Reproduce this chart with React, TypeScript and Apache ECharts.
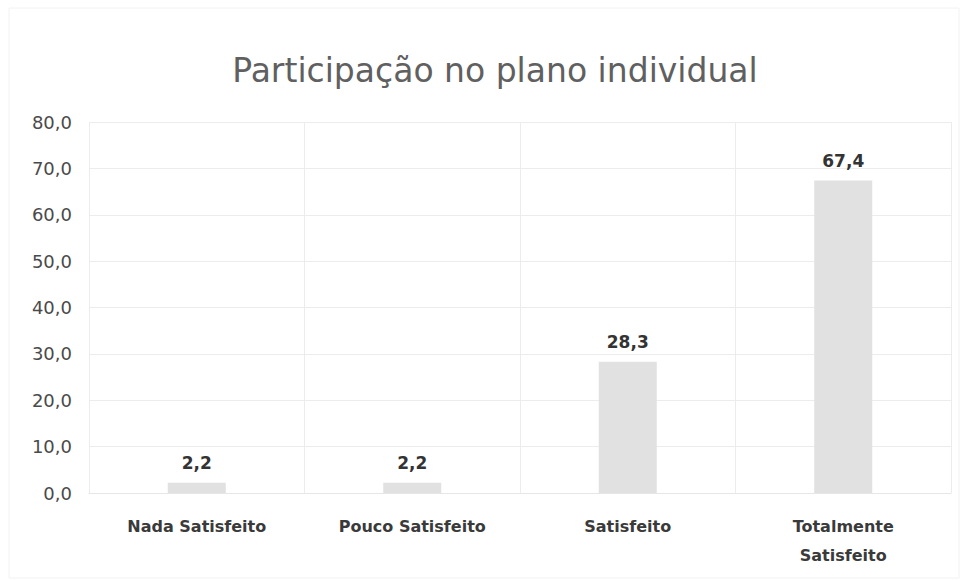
import React, { useEffect, useRef } from "react";
import * as echarts from "echarts";

const categories = ["Nada Satisfeito", "Pouco Satisfeito", "Satisfeito", "Totalmente\nSatisfeito"];
const values = [2.2, 2.2, 28.3, 67.4];
const titleText = "Participação no plano individual";

const fmt = (v: number) => v.toFixed(1).replace(".", ",");

export default function App() {
  const ref = useRef<HTMLDivElement>(null);
  useEffect(() => {
    document.body.style.margin = "0";
    const chart = echarts.init(ref.current!, null, { renderer: "svg" });
    chart.setOption({
      animation: false,
      backgroundColor: "#ffffff",
      graphic: [
        {
          type: "rect",
          shape: { x: 9, y: 8, width: 950, height: 570 },
          style: { fill: "none", stroke: "#f2f2f2", lineWidth: 1 },
          silent: true,
        },
        {
          type: "text",
          x: 495,
          y: 70,
          style: {
            text: titleText,
            fontFamily: "DejaVu Sans",
            fontSize: 33,
            fill: "#606060",
            align: "center",
            verticalAlign: "middle",
          },
        },
      ],
      grid: { left: 89, right: 12, top: 122, bottom: 87, containLabel: false },
      xAxis: {
        type: "category",
        data: categories,
        axisLine: { show: true, lineStyle: { color: "#e6e6e6" } },
        axisTick: { show: false },
        splitLine: { show: true, lineStyle: { color: "#ececec" } },
        axisLabel: {
          fontFamily: "DejaVu Sans",
          fontSize: 16,
          fontWeight: "bold",
          color: "#3a3a3a",
          margin: 19,
          lineHeight: 29,
          interval: 0,
        },
      },
      yAxis: {
        type: "value",
        min: 0,
        max: 80,
        interval: 10,
        axisLine: { show: false },
        axisTick: { show: false },
        splitLine: { show: true, lineStyle: { color: "#ececec" } },
        axisLabel: {
          fontFamily: "DejaVu Sans",
          fontSize: 18,
          color: "#4a4a4a",
          margin: 17,
          formatter: (v: number) => fmt(v),
        },
      },
      series: [
        {
          type: "bar",
          data: values,
          barWidth: 58,
          itemStyle: { color: "#e1e1e1" },
          label: {
            show: true,
            position: "top",
            distance: 11,
            fontFamily: "DejaVu Sans",
            fontSize: 17,
            fontWeight: "bold",
            color: "#333333",
            formatter: (p: any) => fmt(p.value),
          },
        },
      ],
    });
    return () => chart.dispose();
  }, []);
  return <div ref={ref} style={{ width: 963, height: 580 }} />;
}
